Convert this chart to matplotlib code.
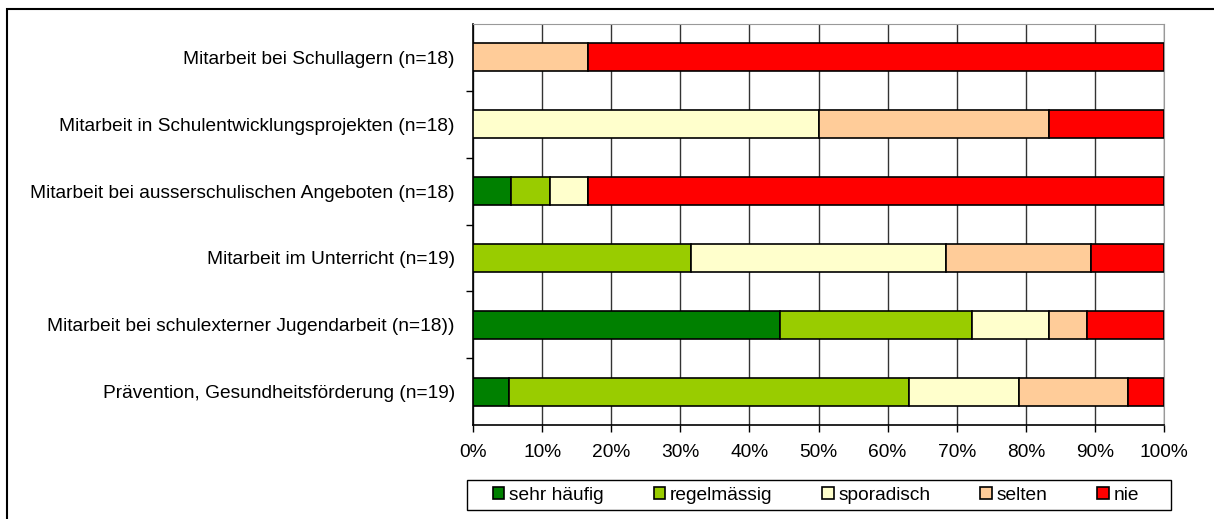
import matplotlib.pyplot as plt
import matplotlib.patches as mpatches
import numpy as np

plt.rcParams['font.family'] = ['Liberation Sans', 'DejaVu Sans']

categories = [
    "Mitarbeit bei Schullagern (n=18)",
    "Mitarbeit in Schulentwicklungsprojekten (n=18)",
    "Mitarbeit bei ausserschulischen Angeboten (n=18)",
    "Mitarbeit im Unterricht (n=19)",
    "Mitarbeit bei schulexterner Jugendarbeit (n=18))",
    "Prävention, Gesundheitsförderung (n=19)",
]
n = [18, 18, 18, 19, 18, 19]
series = ["sehr häufig", "regelmässig", "sporadisch", "selten", "nie"]
colors = ["#008000", "#99cc00", "#ffffcc", "#ffcc99", "#ff0000"]

# counts per category (sehr häufig, regelmässig, sporadisch, selten, nie)
counts = np.array([
    [0, 0, 0, 3, 15],
    [0, 0, 9, 6, 3],
    [1, 1, 1, 0, 15],
    [0, 6, 7, 4, 2],
    [8, 5, 2, 1, 2],
    [1, 11, 3, 3, 1],
])
shares = counts / np.array(n)[:, None]

fs = 13.8
W, H = 1214, 519

fig = plt.figure(figsize=(W/100, H/100), dpi=100)
ax = fig.add_axes([473/W, 1 - 425/H, (1164-473)/W, (425-24)/H])

y = np.arange(len(categories))
left = np.zeros(len(categories))
for j, name in enumerate(series):
    ax.barh(y, shares[:, j], left=left, height=0.42, color=colors[j],
            edgecolor="black", linewidth=1.2, label=name, zorder=3)
    left += shares[:, j]

ax.set_xlim(0, 1)
ax.set_ylim(len(categories) - 0.5, -0.5)
ax.set_xticks(np.linspace(0, 1, 11))
ax.set_xticklabels([f"{int(round(v*100))}%" for v in np.linspace(0, 1, 11)], fontsize=fs)
ax.set_yticks(y)
ax.set_yticklabels(categories, fontsize=fs)
ax.tick_params(axis="y", length=0, pad=13)
ax.set_yticks(np.arange(0.5, len(categories) - 0.5, 1), minor=True)
ax.tick_params(axis="y", which="minor", length=5, width=1, direction="out")
ax.tick_params(axis="x", length=5, width=1, direction="out", pad=9)
ax.grid(axis="x", color="#333333", linewidth=1, zorder=0)
ax.spines["top"].set_color("#999999")
ax.spines["right"].set_color("#999999")
ax.spines["left"].set_linewidth(1.2)
ax.spines["bottom"].set_linewidth(1.2)

leg = fig.legend(*ax.get_legend_handles_labels(), loc="center",
                 bbox_to_anchor=(816/W, 1 - 495/H), ncol=5, fontsize=fs,
                 frameon=False,
                 handlelength=0.6, handleheight=0.6, handletextpad=0.25,
                 columnspacing=2.6, borderpad=0.3, borderaxespad=0)

# legend box
fig.patches.append(mpatches.Rectangle((467/W, 1 - 510/H), (1171-467)/W, 30/H,
                                      transform=fig.transFigure, fill=False,
                                      edgecolor="black", linewidth=1))
# outer chart frame
fig.patches.append(mpatches.Rectangle((7/W, -0.1), 1.2, 1 - 9/H + 0.1,
                                      transform=fig.transFigure, fill=False,
                                      edgecolor="black", linewidth=1.5))

fig.savefig("out.png", dpi=100)
